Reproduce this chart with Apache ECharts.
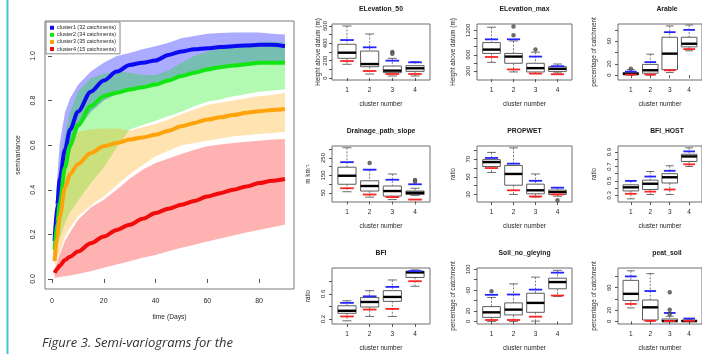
<!DOCTYPE html>
<html lang="en">
<head>
<meta charset="UTF-8">
<title>Semi-variograms and cluster boxplots</title>
<script src="https://cdn.jsdelivr.net/npm/echarts@6/dist/echarts.min.js"></script>
<style>
  html, body { margin: 0; padding: 0; background: #fff; }
  #chart { width: 702px; height: 354px; }
</style>
</head>
<body>
<div id="chart"></div>
<script>
// semi-variogram curves (time in days)
var days = [1, 2, 3, 5, 7, 10, 15, 20, 25, 30, 35, 40, 45, 50, 55, 60, 65, 70, 75, 80, 85, 90];

var c1Mean = [0.17, 0.33, 0.45, 0.58, 0.67, 0.75, 0.84, 0.89, 0.93, 0.96, 0.97, 0.98, 1.005, 1.02, 1.03, 1.035, 1.04, 1.044, 1.047, 1.05, 1.05, 1.044];
var c1Hi   = [0.22, 0.45, 0.61, 0.745, 0.81, 0.87, 0.93, 0.97, 1.0, 1.014, 1.03, 1.044, 1.06, 1.08, 1.09, 1.10, 1.103, 1.105, 1.105, 1.105, 1.10, 1.097];
var c1Lo   = [0.12, 0.24, 0.33, 0.47, 0.57, 0.67, 0.75, 0.80, 0.83, 0.85, 0.865, 0.88, 0.895, 0.91, 0.925, 0.94, 0.95, 0.955, 0.96, 0.965, 0.965, 0.965];

var c2Mean = [0.13, 0.25, 0.34, 0.50, 0.60, 0.69, 0.775, 0.82, 0.835, 0.85, 0.86, 0.872, 0.89, 0.91, 0.925, 0.94, 0.95, 0.957, 0.963, 0.97, 0.97, 0.97];
var c2Hi   = [0.16, 0.34, 0.50, 0.65, 0.75, 0.84, 0.90, 0.92, 0.93, 0.925, 0.915, 0.915, 0.935, 0.97, 1.0, 1.02, 1.035, 1.045, 1.055, 1.06, 1.065, 1.06];
var c2Lo   = [0.08, 0.14, 0.18, 0.25, 0.30, 0.35, 0.43, 0.50, 0.59, 0.67, 0.69, 0.71, 0.73, 0.75, 0.775, 0.795, 0.805, 0.82, 0.83, 0.84, 0.845, 0.85];

var c3Mean = [0.08, 0.19, 0.28, 0.41, 0.47, 0.515, 0.565, 0.595, 0.61, 0.625, 0.635, 0.647, 0.665, 0.685, 0.70, 0.715, 0.725, 0.735, 0.745, 0.752, 0.758, 0.762];
var c3Hi   = [0.12, 0.30, 0.45, 0.58, 0.63, 0.66, 0.67, 0.675, 0.675, 0.665, 0.68, 0.695, 0.715, 0.74, 0.76, 0.78, 0.79, 0.80, 0.81, 0.82, 0.825, 0.835];
var c3Lo   = [0.05, 0.09, 0.12, 0.19, 0.23, 0.28, 0.33, 0.37, 0.42, 0.47, 0.51, 0.55, 0.575, 0.60, 0.61, 0.62, 0.63, 0.64, 0.645, 0.65, 0.655, 0.66];

var c4Mean = [0.027, 0.045, 0.06, 0.085, 0.10, 0.123, 0.16, 0.19, 0.22, 0.243, 0.27, 0.296, 0.315, 0.333, 0.35, 0.37, 0.385, 0.40, 0.415, 0.43, 0.44, 0.448];
var c4Hi   = [0.04, 0.08, 0.11, 0.17, 0.21, 0.265, 0.32, 0.355, 0.40, 0.45, 0.49, 0.52, 0.54, 0.56, 0.58, 0.595, 0.603, 0.61, 0.615, 0.62, 0.625, 0.628];
var c4Lo   = [0.005, 0.007, 0.009, 0.012, 0.016, 0.022, 0.035, 0.05, 0.065, 0.08, 0.095, 0.108, 0.124, 0.14, 0.154, 0.168, 0.182, 0.195, 0.208, 0.22, 0.232, 0.243];

var clusterNames = ['cluster1 (32 catchments)', 'cluster2 (34 catchments)', 'cluster3 (35 catchments)', 'cluster4 (15 catchments)'];
var dayTicks = [0, 20, 40, 60, 80];
var semiTicks = [0, 0.2, 0.4, 0.6, 0.8, 1.0];

// boxplots: [low whisker, q1, median, q3, high whisker] per cluster 1..4
var elev50Box  = [[158, 227, 292, 389, 600], [46, 130, 161, 311, 508], [23, 62, 85, 138, 227], [23, 77, 112, 142, 188]];
var elev50Blue = [438, 354, 200, 181];
var elev50Red  = [196, 81, 46, 46];
var elev50Out  = [[3, 300], [3, 280]];

var elevMaxBox  = [[413, 633, 727, 900, 1278], [176, 390, 555, 633, 940], [136, 176, 270, 390, 663], [153, 190, 254, 309, 372]];
var elevMaxBlue = [980, 980, 555, 318];
var elevMaxRed  = [545, 238, 136, 120];
var elevMaxOut  = [[2, 1295], [2, 1082], [3, 727]];

var arableBox  = [[0, 0.6, 2.3, 4.6, 10], [0, 3.4, 8.6, 19, 37], [4.6, 9.7, 38, 67, 87], [43, 50, 55.5, 67, 88.6]];
var arableBlue = [6.3, 23, 76, 80];
var arableRed  = [1, 1, 8.6, 46];
var arableOut  = [[1, 11.5]];

var drainBox  = [[56, 99, 148, 197, 309], [25, 60, 89, 119, 182], [11, 31, 60, 89, 158], [35, 40, 50, 60, 76]];
var drainBlue = [226, 183, 125, 99];
var drainRed  = [76, 40, 25, 11];
var drainOut  = [[2, 221], [4, 123], [4, 113]];

var propwetBox  = [[55, 61.8, 66.8, 69.6, 77.8], [30, 40.5, 53.3, 63, 83], [26.9, 30.7, 34.7, 41.7, 53.3], [28, 30, 32.7, 35, 37.7]];
var propwetBlue = [71.5, 65, 45.5, 37.7];
var propwetRed  = [60, 34.7, 27.7, 30];
var propwetOut  = [[4, 23.4]];

var bfiHostBox  = [[0.25, 0.36, 0.41, 0.445, 0.50], [0.31, 0.38, 0.46, 0.51, 0.63], [0.31, 0.47, 0.55, 0.60, 0.71], [0.70, 0.77, 0.84, 0.87, 0.96]];
var bfiHostBlue = [0.50, 0.56, 0.64, 0.91];
var bfiHostRed  = [0.32, 0.35, 0.38, 0.73];
var bfiHostOut  = [];

var bfiBox  = [[0.17, 0.29, 0.33, 0.41, 0.49], [0.24, 0.39, 0.47, 0.54, 0.65], [0.24, 0.48, 0.55, 0.65, 0.82], [0.72, 0.86, 0.94, 0.96, 0.98]];
var bfiBlue = [0.456, 0.56, 0.71, 0.96];
var bfiRed  = [0.24, 0.35, 0.36, 0.80];
var bfiOut  = [];

var soilBox  = [[0, 7.7, 17.4, 28.4, 46], [0, 12.4, 22.6, 35.5, 72], [0.6, 17.4, 35.5, 54, 85], [47.8, 62.6, 75.5, 83, 98]];
var soilBlue = [51, 51.6, 61, 93.6];
var soilRed  = [2.7, 2.7, 9, 49.7];
var soilOut  = [[1, 58]];

var peatBox  = [[24, 37, 49, 73, 90], [0, 2.5, 25, 38, 85], [0, 0, 0.5, 4.3, 9], [0, 0, 0.5, 2, 4]];
var peatBlue = [80, 54, 15, 5];
var peatRed  = [31, 1, 0.5, 1];
var peatOut  = [[3, 52], [3, 20.5], [3, 13]];

var panelTitles = ['ELevation_50', 'ELevation_max', 'Arable', 'Drainage_path_slope', 'PROPWET', 'BFI_HOST', 'BFI', 'Soil_no_gleying', 'peat_soil'];
var panelYNames = ['Height above datum (m)', 'Height above datum (m)', 'percentage of catchment', 'm km\u207B\u00B9', 'ratio', 'ratio', 'ratio', 'percentage of catchment', 'percentage of catchment'];
var panelTicks = [
  [0, 100, 200, 300, 400, 500, 600],
  [200, 400, 600, 800, 1000, 1200],
  [0, 20, 40, 60, 80],
  [50, 100, 150, 200, 250, 300],
  [30, 40, 50, 60, 70, 80],
  [0.3, 0.4, 0.5, 0.6, 0.7, 0.8, 0.9],
  [0.2, 0.4, 0.6, 0.8],
  [0, 20, 40, 60, 80, 100],
  [0, 20, 40, 60, 80]
];
var panelLabels = [[0, 200, 400, 600], [200, 600, 1200], [0, 20, 60], [50, 150, 250], [30, 50, 70], [0.3, 0.5, 0.7, 0.9], [0.2, 0.6], [0, 20, 60, 100], [0, 20, 60]];
var panelRange = [[-23, 623], [-22, 1358], [-8.6, 90.4], [-3, 319], [21.4, 85.1], [0.206, 0.985], [0.12, 1.01], [-5, 102.5], [-4.7, 95]];
var panelBox  = [elev50Box, elevMaxBox, arableBox, drainBox, propwetBox, bfiHostBox, bfiBox, soilBox, peatBox];
var panelBlue = [elev50Blue, elevMaxBlue, arableBlue, drainBlue, propwetBlue, bfiHostBlue, bfiBlue, soilBlue, peatBlue];
var panelRed  = [elev50Red, elevMaxRed, arableRed, drainRed, propwetRed, bfiHostRed, bfiRed, soilRed, peatRed];
var panelOut  = [elev50Out, elevMaxOut, arableOut, drainOut, propwetOut, bfiHostOut, bfiOut, soilOut, peatOut];
var clusterTicks = [1, 2, 3, 4];

// layout
var colLeft = [332, 477, 618];
var colWidth = [98, 95, 98];
var rowTop = [24, 146, 268];
var rowHeight = 56;

var lineColors = ['#0b0bf2', '#12e612', '#ffa30a', '#f20b0b'];
var bandColors = ['rgba(0,0,255,0.33)', 'rgba(0,235,0,0.30)', 'rgba(255,165,0,0.30)', 'rgba(255,0,0,0.30)'];
var font = '"Liberation Sans", Arial, sans-serif';
var txt = '#262626';

// one polygon per band, upper edge then lower edge back, through the axis scales
function bandRenderer(lo, hi, color) {
  return function (params, api) {
    if (params.dataIndex !== 0) return;
    var upper = days.map(function (d, i) { return api.coord([d, hi[i]]); });
    var lower = days.map(function (d, i) { return api.coord([d, lo[i]]); }).reverse();
    return {
      type: 'polygon',
      shape: { points: upper.concat(lower) },
      style: { fill: color }
    };
  };
}

function renderBox(params, api) {
  var x = api.value(0);
  var lo = api.value(1), q1 = api.value(2), md = api.value(3), q3 = api.value(4), hi = api.value(5);
  var bl = api.value(6), rd = api.value(7);
  var w = api.size([1, 0])[0];
  var cx = api.coord([x, md])[0];
  function py(v) { return api.coord([x, v])[1]; }
  var grey = '#5c5c5c';
  var dash = { stroke: grey, lineWidth: 0.8, lineDash: [2, 1.5] };
  var solid = { stroke: grey, lineWidth: 0.9 };
  var cap = w * 0.2, half = w * 0.4, mark = w * 0.3;
  return {
    type: 'group',
    children: [
      { type: 'line', shape: { x1: cx, y1: py(hi), x2: cx, y2: py(q3) }, style: dash },
      { type: 'line', shape: { x1: cx, y1: py(q1), x2: cx, y2: py(lo) }, style: dash },
      { type: 'line', shape: { x1: cx - cap, y1: py(hi), x2: cx + cap, y2: py(hi) }, style: solid },
      { type: 'line', shape: { x1: cx - cap, y1: py(lo), x2: cx + cap, y2: py(lo) }, style: solid },
      { type: 'rect', shape: { x: cx - half, y: py(q3), width: 2 * half, height: py(q1) - py(q3) }, style: { fill: '#fff', stroke: grey, lineWidth: 1 } },
      { type: 'line', shape: { x1: cx - half, y1: py(md), x2: cx + half, y2: py(md) }, style: { stroke: '#000', lineWidth: 2.4 } },
      { type: 'rect', shape: { x: cx - mark, y: py(bl) - 0.9, width: 2 * mark, height: 1.8 }, style: { fill: '#2424ff' } },
      { type: 'rect', shape: { x: cx - mark, y: py(rd) - 0.9, width: 2 * mark, height: 1.8 }, style: { fill: '#ff2424' } }
    ]
  };
}

var grids = [{ left: 45, top: 21, width: 249, height: 268, show: true, borderColor: '#7a7a7a', borderWidth: 1 }];
var xAxes = [{
  gridIndex: 0, type: 'value', min: -2.7, max: 93.5,
  axisLine: { show: false }, splitLine: { show: false },
  axisTick: { customValues: dayTicks, length: 4, lineStyle: { color: '#555' } },
  axisLabel: { customValues: dayTicks, fontSize: 7, color: txt, fontFamily: font, margin: 9 },
  name: 'time (Days)', nameLocation: 'middle', nameGap: 25,
  nameTextStyle: { fontSize: 6.7, color: txt, fontFamily: font }
}];
var yAxes = [{
  gridIndex: 0, type: 'value', min: -0.045, max: 1.157,
  axisLine: { show: false }, splitLine: { show: false },
  axisTick: { customValues: semiTicks, length: 4, lineStyle: { color: '#555' } },
  axisLabel: { customValues: semiTicks, rotate: 90, fontSize: 7, color: txt, fontFamily: font, margin: 8.5,
    formatter: function (v) { return v.toFixed(1); } },
  name: 'semivariance', nameLocation: 'middle', nameRotate: 90, nameGap: 23,
  nameTextStyle: { fontSize: 6.7, color: txt, fontFamily: font }
}];
var titles = [{
  text: 'Figure 3. Semi-variograms for the', left: 42, top: 337, padding: 0,
  textStyle: { fontSize: 13, fontStyle: 'italic', fontWeight: 'normal', color: '#333', fontFamily: '"Open Sans", sans-serif' }
}];

var series = [];
var means = [c1Mean, c2Mean, c3Mean, c4Mean];
var his = [c1Hi, c2Hi, c3Hi, c4Hi];
var los = [c1Lo, c2Lo, c3Lo, c4Lo];
means.forEach(function (m, k) {
  series.push({
    type: 'custom', xAxisIndex: 0, yAxisIndex: 0, silent: true, z: 1,
    renderItem: bandRenderer(los[k], his[k], bandColors[k]),
    encode: { x: 0, y: [1, 2] },
    data: days.map(function (d, i) { return [d, los[k][i], his[k][i]]; })
  });
});
means.forEach(function (m, k) {
  series.push({
    type: 'line', name: clusterNames[k], xAxisIndex: 0, yAxisIndex: 0, color: lineColors[k],
    data: days.map(function (d, i) { return [d, m[i]]; }),
    symbol: 'none', smooth: 0.3, smoothMonotone: 'x',
    lineStyle: { width: 4, color: lineColors[k] }, z: 3
  });
});

panelTitles.forEach(function (t, p) {
  var col = p % 3, row = Math.floor(p / 3);
  var g = p + 1;
  grids.push({ left: colLeft[col], top: rowTop[row], width: colWidth[col], height: rowHeight, show: true, borderColor: '#6e6e6e', borderWidth: 1 });
  xAxes.push({
    gridIndex: g, type: 'value', min: 0.34, max: 4.66,
    axisLine: { show: false }, splitLine: { show: false },
    axisTick: { customValues: clusterTicks, length: 3, lineStyle: { color: '#555' } },
    axisLabel: { customValues: clusterTicks, fontSize: 6.5, color: txt, fontFamily: font, margin: 6.5 },
    name: 'cluster number', nameLocation: 'middle', nameGap: 20.5,
    nameTextStyle: { fontSize: 6.5, color: txt, fontFamily: font }
  });
  yAxes.push({
    gridIndex: g, type: 'value', min: panelRange[p][0], max: panelRange[p][1],
    axisLine: { show: false }, splitLine: { show: false },
    axisTick: { customValues: panelTicks[p], length: 3, lineStyle: { color: '#555' } },
    axisLabel: { customValues: panelLabels[p], rotate: 90, fontSize: 6, color: txt, fontFamily: font,
      margin: p === 0 ? 3.5 : 5.5, formatter: function (v) { return String(v); } },
    name: panelYNames[p], nameLocation: 'middle', nameRotate: 90, nameGap: p === 0 ? 7.5 : 21,
    nameTextStyle: { fontSize: 6.3, color: txt, fontFamily: font }
  });
  titles.push({
    text: t, left: colLeft[col] + colWidth[col] / 2, top: rowTop[row] - 18.5, textAlign: 'center', padding: 0,
    textStyle: { fontSize: 6.8, fontWeight: 'bold', color: '#1a1a1a', fontFamily: font }
  });
  series.push({
    type: 'custom', xAxisIndex: g, yAxisIndex: g, renderItem: renderBox, silent: true,
    encode: { x: 0, y: [1, 2, 3, 4, 5, 6, 7] },
    data: panelBox[p].map(function (b, i) {
      return [i + 1, b[0], b[1], b[2], b[3], b[4], panelBlue[p][i], panelRed[p][i]];
    })
  });
  series.push({
    type: 'scatter', xAxisIndex: g, yAxisIndex: g, silent: true, z: 5,
    symbol: 'emptyCircle', symbolSize: 2.5,
    itemStyle: { color: '#444', borderColor: '#444', borderWidth: 0.7 },
    data: panelOut[p]
  });
});

var chart = echarts.init(document.getElementById('chart'), null, { renderer: 'canvas' });
chart.setOption({
  animation: false,
  backgroundColor: '#fff',
  title: titles,
  legend: {
    data: clusterNames, icon: 'rect', orient: 'vertical', left: 46, top: 22,
    itemWidth: 4, itemHeight: 4, itemGap: 1.6, padding: [3, 4, 2, 4],
    borderColor: '#8a8a8a', borderWidth: 1, backgroundColor: '#fff',
    textStyle: { fontSize: 5.4, color: txt, fontFamily: font, lineHeight: 5.5, padding: [0, 0, 0, -2] },
    selectedMode: false
  },
  graphic: [{
    type: 'line', shape: { x1: 7.5, y1: 0, x2: 7.5, y2: 354 },
    style: { stroke: '#40c6d6', lineWidth: 2 }, silent: true
  }],
  grid: grids,
  xAxis: xAxes,
  yAxis: yAxes,
  series: series
});
window.onresize = function () { chart.resize(); };
</script>
</body>
</html>
